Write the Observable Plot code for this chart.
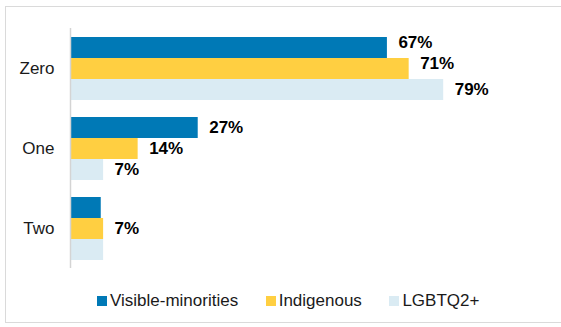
<!DOCTYPE html>
<html>
<head>
<meta charset="utf-8">
<script src="https://cdn.jsdelivr.net/npm/d3@7"></script>
<script src="https://cdn.jsdelivr.net/npm/@observablehq/plot@0.6"></script>
<style>
  html, body { margin: 0; padding: 0; background: #fff; overflow: hidden; width: 561px; height: 327px; }
  #frame { position: absolute; left: 5px; top: 6px; width: 640px; height: 317px; border: 1.5px solid #dadada; box-sizing: border-box; pointer-events: none; }
  #chart { position: absolute; left: 0; top: 0; }
  #legend { position: absolute; left: 97px; top: 291px; height: 20px; display: flex; align-items: center;
            font-family: "Liberation Sans", Arial, sans-serif; font-size: 17px; color: #1a1a1a; white-space: nowrap; }
  .item { display: flex; align-items: center; margin-right: 27.5px; }
  .sw { width: 10px; height: 10px; margin-right: 3px; }
</style>
</head>
<body>
<div id="chart"></div>
<div id="legend"></div>
<div id="frame"></div>
<script>
const categories = ["Zero", "One", "Two"];
const series = ["Visible-minorities", "Indigenous", "LGBTQ2+"];
const visibleMinorities = [67, 27, 6.5];
const indigenous = [71.6, 14.3, 7];
const lgbtq = [78.9, 7, 7];
const visibleLabels = ["67%", "27%", null];
const indigenousLabels = ["71%", "14%", "7%"];
const lgbtqLabels = ["79%", "7%", null];
const colors = ["#0079B6", "#FFCF41", "#DAEBF3"];

const valuesBySeries = [visibleMinorities, indigenous, lgbtq];
const labelsBySeries = [visibleLabels, indigenousLabels, lgbtqLabels];
const data = [];
categories.forEach((cat, ci) => {
  series.forEach((s, si) => {
    data.push({cat, series: s, value: valuesBySeries[si][ci], label: labelsBySeries[si][ci]});
  });
});
const labeled = data.filter(d => d.label);
const raised = labeled.filter(d => d.cat === "Zero" && d.series !== "LGBTQ2+");
const normal = labeled.filter(d => !(d.cat === "Zero" && d.series !== "LGBTQ2+"));

const chart = Plot.plot({
  width: 561,
  height: 280,
  marginLeft: 70,
  marginRight: 18,
  marginTop: 27,
  marginBottom: 12,
  style: {fontFamily: "'Liberation Sans', Arial, sans-serif", fontSize: "17px", color: "#1a1a1a", background: "transparent"},
  x: {domain: [0, 100], axis: null},
  y: {domain: series, paddingInner: 0, paddingOuter: 0.375, axis: null},
  fy: {domain: categories, padding: 0, axis: "left", tickSize: 0, tickPadding: 16, label: null},
  color: {domain: series, range: colors},
  marks: [
    Plot.barX(data, {x: "value", y: "series", fy: "cat", fill: "series", inset: 0}),
    Plot.ruleX([0], {stroke: "#d4d4d4", strokeWidth: 1.5}),
    Plot.text(normal, {x: "value", y: "series", fy: "cat", text: "label", dx: 11, textAnchor: "start", fontWeight: "bold", fontSize: 17, fill: "#000"}),
    Plot.text(raised, {x: "value", y: "series", fy: "cat", text: "label", dx: 11, dy: -5, textAnchor: "start", fontWeight: "bold", fontSize: 17, fill: "#000"})
  ]
});
document.getElementById("chart").appendChild(chart);

const legend = document.getElementById("legend");
series.forEach((s, i) => {
  const item = document.createElement("div");
  item.className = "item";
  const sw = document.createElement("span");
  sw.className = "sw";
  sw.style.background = colors[i];
  const t = document.createElement("span");
  t.textContent = s;
  item.appendChild(sw);
  item.appendChild(t);
  legend.appendChild(item);
});
</script>
</body>
</html>
